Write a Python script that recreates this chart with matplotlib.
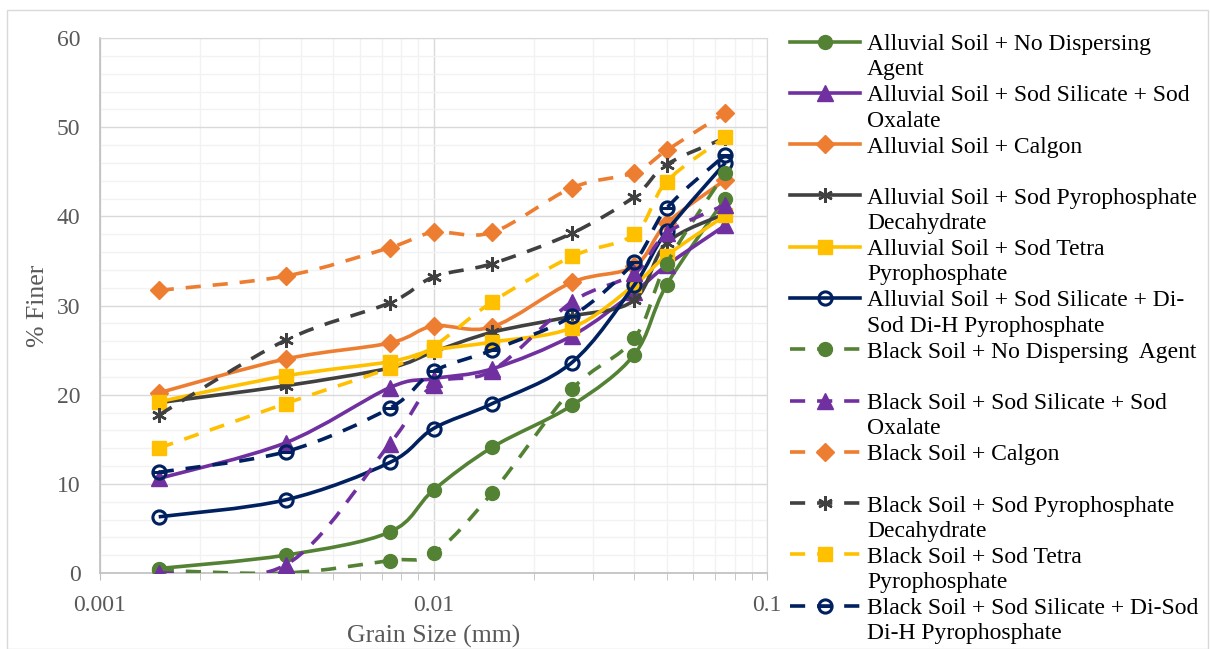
import numpy as np
import matplotlib
matplotlib.use("Agg")
import matplotlib.pyplot as plt
from matplotlib.path import Path
from matplotlib.patches import PathPatch, Rectangle
from matplotlib.lines import Line2D
from matplotlib.legend_handler import HandlerLine2D
from matplotlib.ticker import FixedLocator, FixedFormatter, MultipleLocator, NullFormatter

plt.rcParams['font.family'] = ['Liberation Serif', 'DejaVu Serif']

# ---------------- data ----------------
grain_size = [0.0015, 0.0036, 0.0074, 0.01, 0.015, 0.026, 0.04, 0.05, 0.075]

alluvial_no_agent = [0.5, 2.0, 4.6, 9.3, 14.1, 18.8, 24.5, 32.3, 42.0]
alluvial_ss_so = [10.6, 14.6, 20.8, 21.8, 22.9, 26.6, 31.5, 34.5, 39.0]
alluvial_calgon = [20.2, 24.0, 25.8, 27.7, 27.6, 32.6, 34.4, 39.2, 44.1]
alluvial_spd = [19.1, 21.0, 23.0, 24.8, 27.0, 28.8, 30.6, 37.0, 40.3]
alluvial_stp = [19.2, 22.1, 23.7, 25.0, 25.9, 27.5, 32.3, 35.6, 40.1]
alluvial_ss_dsdhp = [6.3, 8.2, 12.4, 16.2, 19.0, 23.6, 32.3, 38.3, 46.0]
black_no_agent = [0.3, 0.0, 1.4, 2.2, 9.0, 20.6, 26.3, 34.7, 44.9]
black_ss_so = [0.0, 0.9, 14.5, 21.1, 22.7, 30.4, 33.6, 38.1, 41.3]
black_calgon = [31.7, 33.3, 36.5, 38.2, 38.2, 43.2, 44.9, 47.4, 51.6]
black_spd = [17.7, 26.1, 30.3, 33.2, 34.7, 38.1, 42.2, 45.8, 48.8]
black_stp = [14.0, 19.0, 23.0, 25.4, 30.4, 35.5, 38.0, 43.9, 48.9]
black_ss_dsdhp = [11.3, 13.6, 18.5, 22.6, 25.0, 28.8, 34.9, 40.9, 46.9]

labels = [
    "Alluvial Soil + No Dispersing\nAgent",
    "Alluvial Soil + Sod Silicate + Sod\nOxalate",
    "Alluvial Soil + Calgon\n ",
    "Alluvial Soil + Sod Pyrophosphate\nDecahydrate",
    "Alluvial Soil + Sod Tetra\nPyrophosphate",
    "Alluvial Soil + Sod Silicate + Di-\nSod Di-H Pyrophosphate",
    "Black Soil + No Dispersing  Agent\n ",
    "Black Soil + Sod Silicate + Sod\nOxalate",
    "Black Soil + Calgon\n ",
    "Black Soil + Sod Pyrophosphate\nDecahydrate",
    "Black Soil + Sod Tetra\nPyrophosphate",
    "Black Soil + Sod Silicate + Di-Sod\nDi-H Pyrophosphate",
]
series = [alluvial_no_agent, alluvial_ss_so, alluvial_calgon, alluvial_spd,
          alluvial_stp, alluvial_ss_dsdhp, black_no_agent, black_ss_so,
          black_calgon, black_spd, black_stp, black_ss_dsdhp]

# ---------------- styles ----------------
colors6 = ['#548235', '#7030A0', '#ED7D31', '#404040', '#FFC000', '#002060']
circle_bar = Path.make_compound_path(Path.unit_circle(),
                                     Path([(-1, 0), (1, 0)], [Path.MOVETO, Path.LINETO]))
markers6 = ['o', '^', 'D', (6, 2, 0), 's', 'o']
msizes6 = [10.0, 11.0, 9.0, 10.5, 9.5, 9.5]
LW = 2.6
DASH = (0, (4.2, 3.3))

def smooth_path(xs, ys, t=1.0 / 6.0):
    lx = np.log10(np.asarray(xs, float))
    yy = np.asarray(ys, float)
    n = len(lx)
    verts = [(lx[0], yy[0])]
    codes = [Path.MOVETO]
    for i in range(n - 1):
        p0 = np.array([lx[max(i - 1, 0)], yy[max(i - 1, 0)]])
        p1 = np.array([lx[i], yy[i]])
        p2 = np.array([lx[i + 1], yy[i + 1]])
        p3 = np.array([lx[min(i + 2, n - 1)], yy[min(i + 2, n - 1)]])
        c1 = p1 + (p2 - p0) * t
        c2 = p2 - (p3 - p1) * t
        verts += [tuple(c1), tuple(c2), tuple(p2)]
        codes += [Path.CURVE4] * 3
    v = np.array(verts)
    v[:, 0] = 10 ** v[:, 0]
    return Path(v, codes)

W, H = 1210, 649
fig = plt.figure(figsize=(W / 100, H / 100), dpi=100)
ax = fig.add_axes([100 / W, 1 - 573 / H, (767 - 100) / W, (573 - 38) / H])

# outer chart border
fig.patches.append(Rectangle((7 / W, 0), (1208 - 7) / W, 1 - 10 / H, transform=fig.transFigure,
                             fill=False, edgecolor='#D9D9D9', linewidth=1.0))

ax.set_xscale('log')
ax.set_xlim(0.001, 0.1)
ax.set_ylim(0, 60)

handles = []
for i, (vals, lab) in enumerate(zip(series, labels)):
    k = i % 6
    col = colors6[k]
    dashed = i >= 6
    ls = DASH if dashed else '-'
    z = 2 + i * 0.1
    ax.add_patch(PathPatch(smooth_path(grain_size, vals), fill=False, edgecolor=col,
                           linewidth=LW, linestyle=ls, zorder=z, capstyle='butt'))
    if k == 5:
        mk = circle_bar if dashed else 'o'
        mfc = 'none'
        mew = 2.2
    elif k == 3:
        mk = markers6[k]
        mfc = col
        mew = 1.8
    else:
        mk = markers6[k]
        mfc = col
        mew = 1.0
    ax.plot(grain_size, vals, linestyle='none', marker=mk, markersize=msizes6[k],
            markerfacecolor=mfc, markeredgecolor=col, markeredgewidth=mew, zorder=z + 0.05)
    handles.append(Line2D([], [], color=col, linewidth=LW, linestyle=ls, marker=mk,
                          markersize=msizes6[k], markerfacecolor=mfc, markeredgecolor=col,
                          markeredgewidth=mew, dash_capstyle='butt'))

# axes styling
ax.xaxis.set_major_locator(FixedLocator([0.001, 0.01, 0.1]))
ax.xaxis.set_major_formatter(FixedFormatter(['0.001', '0.01', '0.1']))
ax.xaxis.set_minor_formatter(NullFormatter())
ax.yaxis.set_major_locator(MultipleLocator(10))
ax.yaxis.set_minor_locator(MultipleLocator(2))
ax.grid(which='major', color='#D9D9D9', linewidth=1.0, zorder=0)
ax.grid(which='minor', color='#F2F2F2', linewidth=1.0, zorder=0)
ax.set_axisbelow(True)
for s in ['top', 'right']:
    ax.spines[s].set_color('#D9D9D9')
for s in ['left', 'bottom']:
    ax.spines[s].set_color('#BFBFBF')
    ax.spines[s].set_linewidth(1.2)
ax.tick_params(axis='x', which='both', direction='out', length=5, color='#BFBFBF',
               labelsize=17, labelcolor='#595959', pad=11)
ax.tick_params(axis='y', which='both', length=0, labelsize=17, labelcolor='#595959', pad=14)
ax.set_xlabel('Grain Size (mm)', fontsize=18.5, color='#595959', labelpad=6)
ax.set_ylabel('% Finer', fontsize=18.5, color='#595959', labelpad=6)

SHIFT = 11.0

class TopHandler(HandlerLine2D):
    def create_artists(self, legend, orig_handle, xdescent, ydescent, width, height, fontsize, trans):
        arts = super().create_artists(legend, orig_handle, xdescent, ydescent, width, height,
                                      fontsize, trans)
        for a in arts:
            a.set_ydata(np.asarray(a.get_ydata(), float) + SHIFT)
        return arts

leg = ax.legend(handles, labels, loc='upper left', bbox_to_anchor=(790 / W, 1 - 34 / H),
                bbox_transform=fig.transFigure, frameon=False, fontsize=17,
                handlelength=2.96, handletextpad=0.3, labelspacing=0.21, borderpad=0,
                borderaxespad=0, handler_map={Line2D: TopHandler(numpoints=1)})
for t in leg.get_texts():
    t.set_linespacing(1.27)
    t.set_color('#000000')

fig.savefig('out.png', dpi=100)
